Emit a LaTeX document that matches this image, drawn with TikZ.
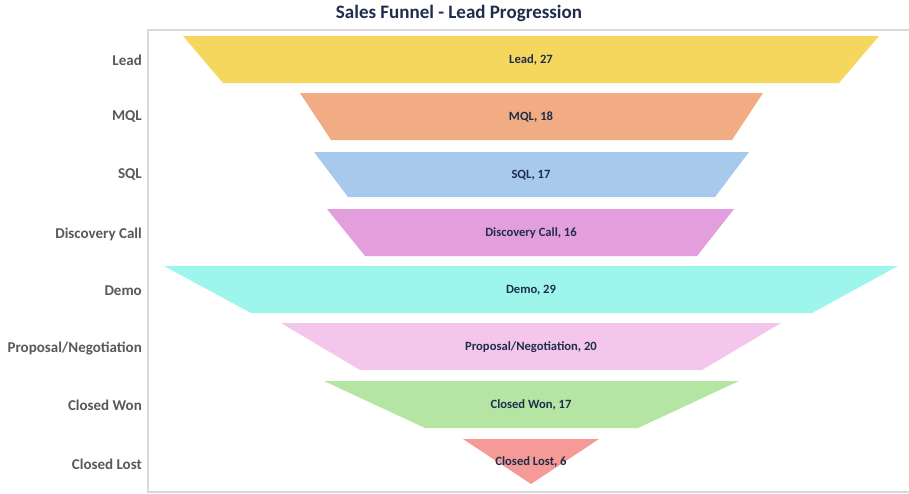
\documentclass[tikz,border=0pt]{standalone}
\usepackage{fontspec}
\setmainfont{Carlito}
\definecolor{cLead}{HTML}{F5D75E}
\definecolor{cMQL}{HTML}{F2AC84}
\definecolor{cSQL}{HTML}{A6C9EC}
\definecolor{cDisc}{HTML}{E29EDD}
\definecolor{cDemo}{HTML}{9EF5EC}
\definecolor{cProp}{HTML}{F4C6EB}
\definecolor{cWon}{HTML}{B4E5A2}
\definecolor{cLost}{HTML}{F59A97}
\definecolor{navy}{HTML}{1F2D4D}
\definecolor{axgrey}{HTML}{595959}
\definecolor{frame}{HTML}{D9D9D9}
\tikzset{
  cat/.style={anchor=east, font=\fontsize{15}{17}\selectfont\bfseries, text=axgrey, inner sep=0pt},
  val/.style={font=\fontsize{12.6}{14}\selectfont\bfseries, text=navy, inner sep=0pt},
  ttl/.style={font=\fontsize{19}{22}\selectfont\bfseries, text=navy, inner sep=0pt},
  frm/.style={draw=frame, line width=2pt}
}
\begin{document}
\begin{tikzpicture}[x=1pt,y=-1pt]
\useasboundingbox (0,0) rectangle (909,493);
\fill[white] (0,0) rectangle (909,493);
% frame
\draw[frm] (909,30) -- (148,30) -- (148,492) -- (909,492);
% bands
\fill[cLead] (183,36) -- (879,36) -- (839,83) -- (223,83) -- cycle;
\fill[cMQL]  (300,93) -- (763,93) -- (732,140) -- (331,140) -- cycle;
\fill[cSQL]  (314,152) -- (749,152) -- (715,197) -- (348,197) -- cycle;
\fill[cDisc] (327,209) -- (734,209) -- (697,256) -- (365,256) -- cycle;
\fill[cDemo] (164,266) -- (898,266) -- (812,313) -- (251,313) -- cycle;
\fill[cProp] (281,323) -- (781,323) -- (702,370) -- (360,370) -- cycle;
\fill[cWon]  (324,381) -- (739,381) -- (638,428) -- (425,428) -- cycle;
\fill[cLost] (463,439) -- (599,439) -- (531,484) -- cycle;
% value labels
\node[val] (vLead) at (531,60) {Lead, 27};
\node[val] (vMQL)  at (531,117) {MQL, 18};
\node[val] (vSQL)  at (531,175) {SQL, 17};
\node[val] (vDisc) at (531,233) {Discovery Call, 16};
\node[val] (vDemo) at (531,290) {Demo, 29};
\node[val] (vProp) at (531,347) {Proposal/Negotiation, 20};
\node[val] (vWon)  at (531,405) {Closed Won, 17};
\node[val] (vLost) at (531,462) {Closed Lost, 6};
% category labels
\node[cat] (cLeadL) at (142,60) {Lead};
\node[cat] (cMQLL)  at (142,117) {MQL};
\node[cat] (cSQLL)  at (142,175) {SQL};
\node[cat] (cDiscL) at (142,234) {Discovery Call};
\node[cat] (cDemoL) at (142,291) {Demo};
\node[cat] (cPropL) at (142,348) {Proposal/Negotiation};
\node[cat] (cWonL)  at (142,405) {Closed Won};
\node[cat] (cLostL) at (142,464) {Closed Lost};
% title
\node[ttl] (title) at (459,13) {Sales Funnel - Lead Progression};
\end{tikzpicture}
\end{document}
